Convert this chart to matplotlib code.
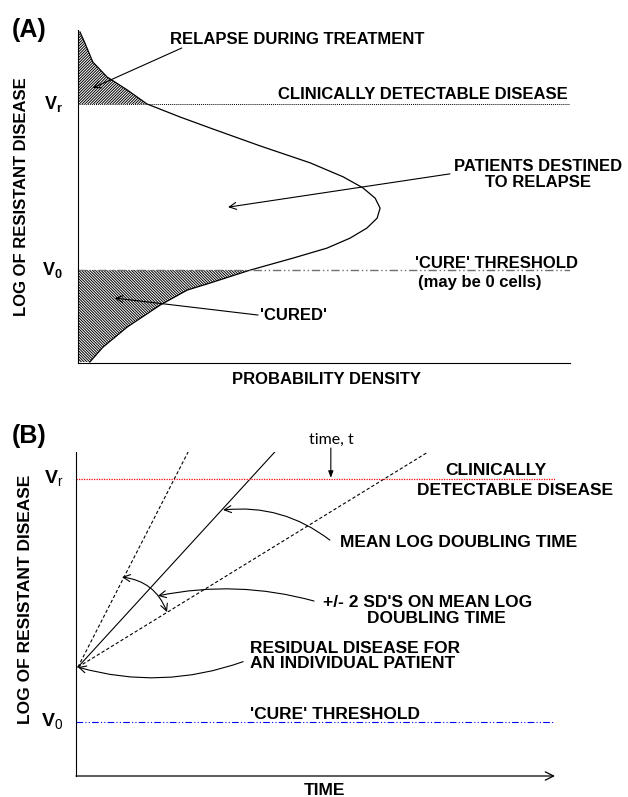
import matplotlib
matplotlib.use("Agg")
import matplotlib.pyplot as plt
import numpy as np

plt.rcParams['font.family'] = ['Liberation Sans', 'DejaVu Sans']
plt.rcParams['mathtext.fontset'] = 'custom'
plt.rcParams['mathtext.rm'] = 'Liberation Sans'
plt.rcParams['mathtext.bf'] = 'Liberation Sans:bold'
plt.rcParams['hatch.linewidth'] = 0.7

# panel A: skewed density of log resistant disease
log_a = [9.94, 9.61, 9.04, 8.59, 8.20, 7.78, 7.39, 7.06, 6.52, 6.01, 5.59, 5.26, 4.95,
         4.65, 4.35, 4.05, 3.75, 3.45, 3.15, 2.79, 2.40, 2.19, 1.74, 1.08, 0.48, 0.03]
density_a = [0.004, 0.014, 0.030, 0.059, 0.100, 0.140, 0.207, 0.268, 0.370, 0.472, 0.539,
             0.579, 0.604, 0.614, 0.608, 0.587, 0.553, 0.506, 0.437, 0.350, 0.268, 0.222,
             0.167, 0.100, 0.051, 0.024]
vr_a = 7.78
v0_a = 2.79

# panel B: growth lines from residual disease
start_b = (0.04, 3.36)
end_x_b = [2.34, 4.15, 7.35]      # steep (-2SD), mean, shallow (+2SD), at top of axis
styles_b = ['--', '-', '--']
vr_b = 9.17
v0_b = 1.67

bold = dict(fontweight='bold', fontsize=12)
arr = dict(arrowstyle='->,head_length=0.5,head_width=0.25', lw=0.8, color='black',
           shrinkA=0, shrinkB=0)

fig = plt.figure(figsize=(6.28, 7.97), dpi=100)

# ---------------- (A)
ax = fig.add_axes([78/628, 1-363/797, 492/628, 333/797])
ax.set_xlim(0, 1)
ax.set_ylim(0, 10)
for s in ['top', 'right']:
    ax.spines[s].set_visible(False)
ax.set_xticks([])
ax.set_yticks([])

x = np.array(density_a)
y = np.array(log_a)
ax.plot(x, y, color='black', lw=0.9)
ax.fill_betweenx(y, 0, x, where=y >= vr_a, facecolor='none', edgecolor='black',
                 linewidth=0, hatch='/' * 12)
ax.fill_betweenx(y, 0, x, where=y <= v0_a, facecolor='none', edgecolor='black',
                 linewidth=0, hatch='\\' * 12)
ax.axhline(vr_a, color='black', lw=0.7, ls=(0, (1, 1)))
ax.axhline(v0_a, color='#707070', lw=1.0, ls=(0, (6, 2, 1, 2, 1, 2)))

yt = ax.get_yaxis_transform()
ax.text(-0.03, vr_a, r'$\mathbf{V_r}$', transform=yt, ha='right', va='center', fontsize=13)
ax.text(-0.03, v0_a, r'$\mathbf{V_0}$', transform=yt, ha='right', va='center', fontsize=13)
ax.text(-0.114, 0.5, 'LOG OF RESISTANT DISEASE', transform=ax.transAxes, rotation=90,
        ha='center', va='center', **bold)
ax.text(0.506, -0.051, 'PROBABILITY DENSITY', transform=ax.transAxes, ha='center',
        va='center', **bold)

ax.text(0.187, 9.70, 'RELAPSE DURING TREATMENT', ha='left', va='center', clip_on=False, **bold)
ax.annotate('', xy=(0.030, 8.26), xytext=(0.211, 9.46), arrowprops=arr)
ax.text(0.407, 8.05, 'CLINICALLY DETECTABLE DISEASE', ha='left', va='center', clip_on=False, **bold)
ax.text(0.935, 5.90, 'PATIENTS DESTINED', ha='center', va='center', clip_on=False, **bold)
ax.text(0.935, 5.42, 'TO RELAPSE', ha='center', va='center', clip_on=False, **bold)
ax.annotate('', xy=(0.305, 4.68), xytext=(0.756, 5.68), arrowprops=arr)
ax.text(0.685, 3.00, "'CURE' THRESHOLD", ha='left', va='center', clip_on=False, **bold)
ax.text(0.691, 2.43, '(may be 0 cells)', ha='left', va='center', clip_on=False, **bold)
ax.text(0.370, 1.44, "'CURED'", ha='left', va='center', **bold)
ax.annotate('', xy=(0.075, 1.95), xytext=(0.366, 1.44), arrowprops=arr)

fig.text(29/628, 1-30/797, '(A)', fontsize=18, fontweight='bold', ha='center', va='center')

# ---------------- (B)
bx = fig.add_axes([76/628, 1-776/797, 479/628, 324/797])
bx.set_xlim(0, 10)
bx.set_ylim(0, 10)
for s in ['top', 'right', 'bottom']:
    bx.spines[s].set_visible(False)
bx.set_xticks([])
bx.set_yticks([])
bx.annotate('', xy=(1.0, 0), xytext=(0, 0), xycoords='axes fraction',
            arrowprops=dict(arrowstyle='->,head_length=0.6,head_width=0.3', lw=0.9,
                            color='black', shrinkA=0, shrinkB=0))

for ex, ls in zip(end_x_b, styles_b):
    bx.plot([start_b[0], ex], [start_b[1], 10], color='black', lw=0.8, ls=ls,
            dashes=(3, 2) if ls == '--' else (None, None))

bx.axhline(vr_b, color='#ff0000', lw=0.9, ls=(0, (1, 1)))
bx.axhline(v0_b, color='#0000ff', lw=0.8, ls=(0, (6, 2, 1, 2, 1, 2)), xmax=0.998)

yt = bx.get_yaxis_transform()
bx.text(-0.027, vr_b, r'$\mathbf{V}_\mathrm{r}$', transform=yt, ha='right', va='center', fontsize=14)
bx.text(-0.027, v0_b, r'$\mathbf{V}_\mathrm{0}$', transform=yt, ha='right', va='center', fontsize=14)
bx.text(-0.106, 0.546, 'LOG OF RESISTANT DISEASE', transform=bx.transAxes, rotation=90,
        ha='center', va='center', fontweight='bold', fontsize=12.5)
bx.text(5.18, -0.046, 'TIME', transform=bx.get_xaxis_transform(), ha='center', va='center',
        fontweight='bold', fontsize=12.5)

bb = dict(fontweight='bold', fontsize=12.5)
bx.text(5.34, 10.37, 'time, t', ha='center', va='center', fontsize=11.5,
        family=['Lato', 'DejaVu Sans'], clip_on=False)
bx.annotate('', xy=(5.32, 9.2), xytext=(5.32, 10.12),
            arrowprops=dict(arrowstyle='-|>,head_length=0.4,head_width=0.15', lw=0.8,
                            color='black', shrinkA=0, shrinkB=0))
bx.text(8.77, 9.44, 'CLINICALLY', ha='center', va='center', clip_on=False, **bb)
bx.text(9.16, 8.80, 'DETECTABLE DISEASE', ha='center', va='center', clip_on=False, **bb)

bx.text(5.51, 7.22, 'MEAN LOG DOUBLING TIME', ha='left', va='center', clip_on=False, **bb)
bx.annotate('', xy=(3.07, 8.21), xytext=(5.30, 7.28),
            arrowprops=dict(arr, connectionstyle='arc3,rad=0.2'))

bx.text(7.35, 5.34, "+/- 2 SD'S ON MEAN LOG", ha='center', va='center', clip_on=False, **bb)
bx.text(7.52, 4.85, 'DOUBLING TIME', ha='center', va='center', clip_on=False, **bb)
bx.annotate('', xy=(1.71, 5.56), xytext=(4.97, 5.40),
            arrowprops=dict(arr, connectionstyle='arc3,rad=0.12'))
bx.annotate('', xy=(1.90, 5.06), xytext=(0.96, 6.14),
            arrowprops=dict(arr, arrowstyle='<->,head_length=0.5,head_width=0.25',
                            connectionstyle='arc3,rad=-0.3'))

bx.text(3.63, 3.95, 'RESIDUAL DISEASE FOR', ha='left', va='center', **bb)
bx.text(3.63, 3.46, 'AN INDIVIDUAL PATIENT', ha='left', va='center', **bb)
bx.annotate('', xy=start_b, xytext=(3.49, 3.53),
            arrowprops=dict(arr, connectionstyle='arc3,rad=-0.16'))

bx.text(3.63, 1.91, "'CURE' THRESHOLD", ha='left', va='center', **bb)

fig.text(29/628, 1-436/797, '(B)', fontsize=18, fontweight='bold', ha='center', va='center')

fig.savefig('out.png', dpi=100)
